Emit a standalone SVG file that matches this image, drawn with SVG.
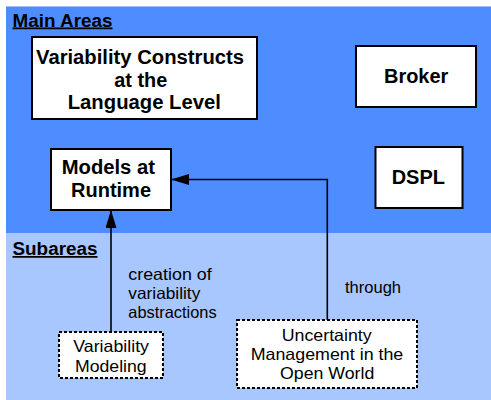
<svg xmlns="http://www.w3.org/2000/svg" width="491" height="400" viewBox="0 0 491 400">
  <style>
    .box { fill: #ffffff; stroke: #000000; stroke-width: 2; }
    .dash { fill: #ffffff; stroke: #000000; stroke-width: 2; stroke-dasharray: 3 2; }
    .bold { font-family: "Liberation Sans", Arial, sans-serif; font-weight: bold; fill: #000000; }
    .reg { font-family: "Liberation Sans", Arial, sans-serif; font-size: 16.5px; fill: #000000; }
    .head { font-family: "Liberation Sans", Arial, sans-serif; font-weight: bold; font-size: 17.5px; fill: #000000; text-decoration: underline; }
    .conn { fill: none; stroke: #000000; stroke-width: 1.6; }
  </style>
  <defs>
    <marker id="arrow" viewBox="0 0 18 11" refX="18" refY="5.5" markerWidth="18" markerHeight="11" markerUnits="userSpaceOnUse" orient="auto">
      <path d="M0,0 L18,5.5 L0,11 Z" fill="#000000"/>
    </marker>
  </defs>

  <!-- background bands -->
  <rect x="0" y="0" width="491" height="400" fill="#ffffff"/>
  <rect x="6" y="6" width="485" height="227" fill="#4e8dff"/>
  <rect x="6" y="233" width="485" height="167" fill="#a8c6ff"/>
  <line x1="6" y1="6.5" x2="491" y2="6.5" stroke="#9fbfff" stroke-width="1"/>

  <text class="head" x="12.5" y="26.5" textLength="100" lengthAdjust="spacingAndGlyphs">Main Areas</text>
  <text class="head" x="12.5" y="255" textLength="85" lengthAdjust="spacingAndGlyphs">Subareas</text>

  <!-- main area nodes -->
  <g id="variability-constructs">
    <rect class="box" x="32" y="37" width="225" height="82"/>
    <text class="bold" font-size="19.5" x="36" y="63.5" textLength="208" lengthAdjust="spacingAndGlyphs">Variability Constructs</text>
    <text class="bold" font-size="19.5" x="114.3" y="86.5" textLength="53" lengthAdjust="spacingAndGlyphs">at the</text>
    <text class="bold" font-size="19.5" x="67.7" y="109.3" textLength="153.3" lengthAdjust="spacingAndGlyphs">Language Level</text>
  </g>

  <g id="broker">
    <rect class="box" x="356" y="46" width="120" height="61"/>
    <text class="bold" font-size="19.5" x="384" y="83.3" textLength="64.3" lengthAdjust="spacingAndGlyphs">Broker</text>
  </g>

  <g id="models-at-runtime">
    <rect class="box" x="51" y="149" width="120" height="61"/>
    <text class="bold" font-size="19.5" x="61.7" y="174.3" textLength="93.3" lengthAdjust="spacingAndGlyphs">Models at</text>
    <text class="bold" font-size="19.5" x="71" y="196.7" textLength="80" lengthAdjust="spacingAndGlyphs">Runtime</text>
  </g>

  <g id="dspl">
    <rect class="box" x="375.5" y="147" width="87" height="61"/>
    <text class="bold" font-size="19.5" x="391.7" y="184.3" textLength="53.3" lengthAdjust="spacingAndGlyphs">DSPL</text>
  </g>

  <!-- subarea nodes -->
  <g id="variability-modeling">
    <rect class="dash" x="59" y="332" width="104" height="46"/>
    <text class="reg" x="73.3" y="351.7" textLength="75.7" lengthAdjust="spacingAndGlyphs">Variability</text>
    <text class="reg" x="75" y="371.7" textLength="71.7" lengthAdjust="spacingAndGlyphs">Modeling</text>
  </g>

  <g id="uncertainty-management">
    <rect class="dash" x="237" y="320" width="180" height="68"/>
    <text class="reg" x="281.7" y="341" textLength="90" lengthAdjust="spacingAndGlyphs">Uncertainty</text>
    <text class="reg" x="250.7" y="360" textLength="152.6" lengthAdjust="spacingAndGlyphs">Management in the</text>
    <text class="reg" x="280" y="379.3" textLength="94.3" lengthAdjust="spacingAndGlyphs">Open World</text>
  </g>

  <!-- connectors -->
  <g id="connectors">
    <path class="conn" d="M111,332 L111,210" marker-end="url(#arrow)"/>
    <path class="conn" d="M327.3,320 L327.3,179.5 L171,179.5" marker-end="url(#arrow)"/>
    <text class="reg" x="128.3" y="280" textLength="83.4" lengthAdjust="spacingAndGlyphs">creation of</text>
    <text class="reg" x="128.3" y="299.3" textLength="72" lengthAdjust="spacingAndGlyphs">variability</text>
    <text class="reg" x="128.3" y="318.3" textLength="88.4" lengthAdjust="spacingAndGlyphs">abstractions</text>
    <text class="reg" x="345" y="293.3" textLength="56" lengthAdjust="spacingAndGlyphs">through</text>
  </g>
</svg>
